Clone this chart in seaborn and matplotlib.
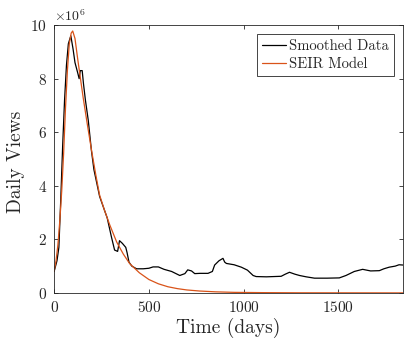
import matplotlib
matplotlib.use("Agg")
import matplotlib.pyplot as plt
import seaborn as sns
import pandas as pd
from matplotlib.ticker import ScalarFormatter

# Smoothed data (days, daily views in millions)
data_days = [0, 15, 25, 35, 45, 55, 65, 75, 88, 100, 110, 125, 132, 138, 148, 155, 165,
             180, 197, 210, 225, 240, 260, 280, 302, 319, 335, 345, 360, 378, 385, 395,
             410, 435, 470, 500, 522, 550, 580, 620, 663, 690, 705, 725, 742, 770, 812,
             835, 847, 870, 891, 900, 909, 950, 988, 1020, 1050, 1066, 1120, 1198, 1220,
             1242, 1270, 1295, 1330, 1374, 1440, 1505, 1540, 1584, 1628, 1670, 1716,
             1740, 1768, 1800, 1820, 1842]
data_views = [0.8, 1.2, 1.7, 3.5, 5.5, 7.2, 8.5, 9.3, 9.6, 9.1, 8.6, 8.2, 8.0, 8.3, 8.3,
              7.8, 7.2, 6.45, 5.3, 4.6, 4.1, 3.6, 3.2, 2.8, 2.1, 1.6, 1.55, 1.95, 1.85,
              1.7, 1.5, 1.15, 1.0, 0.9, 0.9, 0.92, 0.97, 0.97, 0.88, 0.8, 0.65, 0.72,
              0.86, 0.82, 0.72, 0.73, 0.73, 0.8, 1.04, 1.2, 1.29, 1.15, 1.1, 1.05, 0.96,
              0.85, 0.65, 0.61, 0.6, 0.62, 0.7, 0.77, 0.7, 0.65, 0.6, 0.55, 0.55, 0.56,
              0.65, 0.8, 0.88, 0.82, 0.83, 0.9, 0.96, 1.0, 1.05, 1.04]

# SEIR model curve (days, daily views in millions)
model_days = [0, 10, 20, 30, 40, 50, 60, 70, 80, 90, 98, 110, 125, 153, 175, 197, 220,
              240, 265, 293, 330, 365, 398, 420, 450, 500, 550, 600, 650, 700, 768, 850,
              950, 1100, 1300, 1842]
model_views = [0.8, 1.2, 1.8, 2.7, 3.8, 5.2, 6.9, 8.3, 9.3, 9.7, 9.78, 9.5, 8.7, 7.3,
               6.3, 5.34, 4.4, 3.65, 3.1, 2.55, 1.9, 1.45, 1.1, 0.95, 0.75, 0.5, 0.34,
               0.23, 0.16, 0.11, 0.07, 0.04, 0.02, 0.01, 0.004, 0.0]

x_ticks = [0, 500, 1000, 1500]
y_ticks = [0, 2e6, 4e6, 6e6, 8e6, 10e6]

df_data = pd.DataFrame({"day": data_days, "views": [v * 1e6 for v in data_views]})
df_model = pd.DataFrame({"day": model_days, "views": [v * 1e6 for v in model_views]})

sns.set_theme(style="white")
plt.rcParams.update({
    "font.family": ["cmr10", "DejaVu Serif"],
    "mathtext.fontset": "cm",
    "axes.formatter.use_mathtext": True,
    "axes.unicode_minus": False,
    "axes.edgecolor": "#262626",
    "axes.linewidth": 0.6,
    "xtick.color": "#262626",
    "ytick.color": "#262626",
})

fig = plt.figure(figsize=(4.04, 3.39), dpi=100)
ax = fig.add_axes([0.134, 0.136, 0.864, 0.79])

sns.lineplot(data=df_data, x="day", y="views", ax=ax, color="black", lw=0.9,
             label="Smoothed Data")
sns.lineplot(data=df_model, x="day", y="views", ax=ax, color="#D95319", lw=0.9,
             label="SEIR Model")

ax.set_xlim(0, 1842)
ax.set_ylim(0, 10e6)
ax.set_xticks(x_ticks)
ax.set_yticks(y_ticks)
fmt = ScalarFormatter(useMathText=True)
fmt.set_powerlimits((6, 6))
ax.yaxis.set_major_formatter(fmt)
ax.yaxis.get_offset_text().set_fontsize(10)

ax.tick_params(direction="in", length=3, width=0.6, labelsize=11,
               top=True, right=True, bottom=True, left=True, pad=5)
for s in ax.spines.values():
    s.set_visible(True)

ax.set_xlabel("Time (days)", fontsize=14, labelpad=2)
ax.set_ylabel("Daily Views", fontsize=14)
ax.yaxis.set_label_coords(-0.083, 0.49)

leg = ax.legend(loc="upper right", fontsize=10.5, frameon=True, fancybox=False,
                edgecolor="#262626", framealpha=1, handlelength=1.6,
                borderpad=0.35, labelspacing=0.3, handletextpad=0.25,
                borderaxespad=0.6)
leg.get_frame().set_linewidth(0.6)

fig.savefig("out.png", dpi=100)
